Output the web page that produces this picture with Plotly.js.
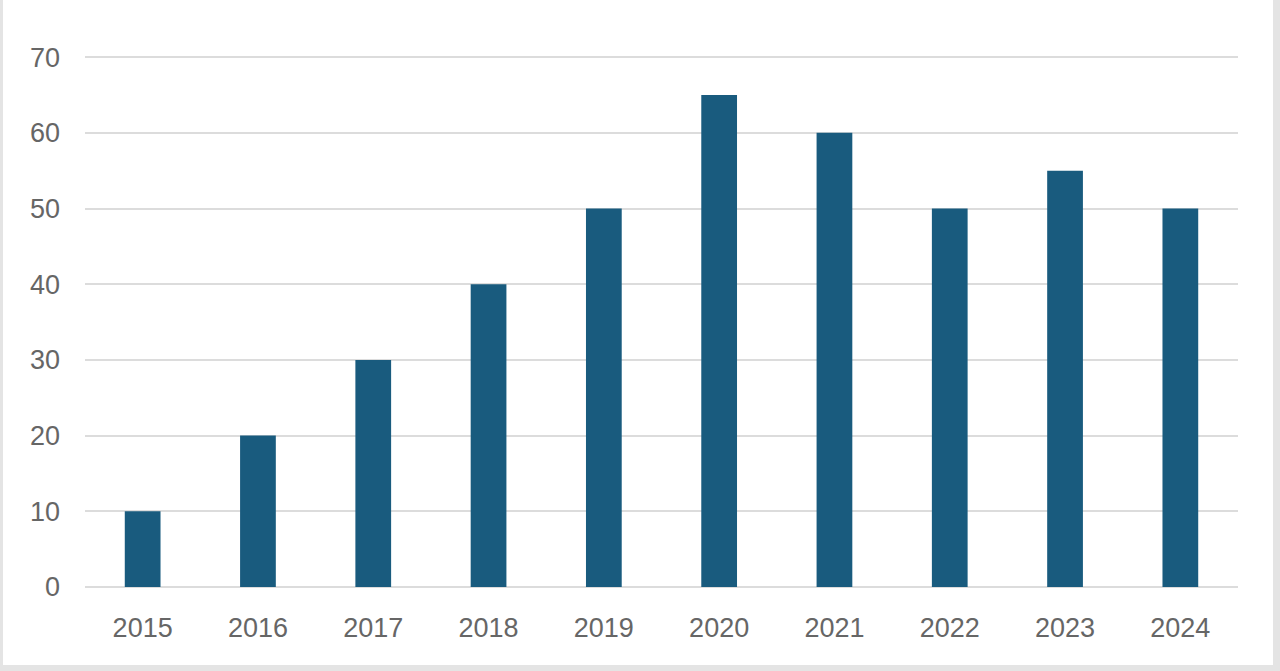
<!DOCTYPE html>
<html>
<head>
<meta charset="utf-8">
<script src="https://cdn.plot.ly/plotly-3.0.1.min.js"></script>
<style>
  html, body { margin: 0; padding: 0; width: 1280px; height: 671px; background: #e4e4e4; overflow: hidden; }
  #chart { position: absolute; left: 3px; top: 0px; width: 1270px; height: 665px; background: #ffffff; }
</style>
</head>
<body>
<div id="chart"></div>
<script>
const years = ["2015", "2016", "2017", "2018", "2019", "2020", "2021", "2022", "2023", "2024"];
const values = [10, 20, 30, 40, 50, 65, 60, 50, 55, 50];
const yTicks = [0, 10, 20, 30, 40, 50, 60, 70];

const trace = {
  type: "bar",
  x: years,
  y: values,
  marker: { color: "#195b7e" },
  width: 0.31,
  hoverinfo: "x+y"
};

const layout = {
  width: 1270,
  height: 665,
  margin: { l: 82, r: 35, t: 56, b: 78 },
  paper_bgcolor: "#ffffff",
  plot_bgcolor: "#ffffff",
  showlegend: false,
  font: { family: "Liberation Sans, Arial, sans-serif", color: "#666666", size: 27 },
  xaxis: {
    type: "category",
    showgrid: false,
    showline: false,
    zeroline: false,
    ticks: "",
    ticklabelstandoff: 22,
    tickfont: { size: 27, color: "#666666" }
  },
  yaxis: {
    range: [0, 70.15],
    tickvals: yTicks,
    ticktext: yTicks.map(String),
    showgrid: true,
    gridcolor: "#dcdcdc",
    gridwidth: 2,
    zeroline: true,
    zerolinecolor: "#dcdcdc",
    zerolinewidth: 2,
    showline: false,
    ticks: "",
    ticklabelstandoff: 24,
    tickfont: { size: 27, color: "#666666" }
  }
};

Plotly.newPlot("chart", [trace], layout, { displayModeBar: false, staticPlot: true });
</script>
</body>
</html>
